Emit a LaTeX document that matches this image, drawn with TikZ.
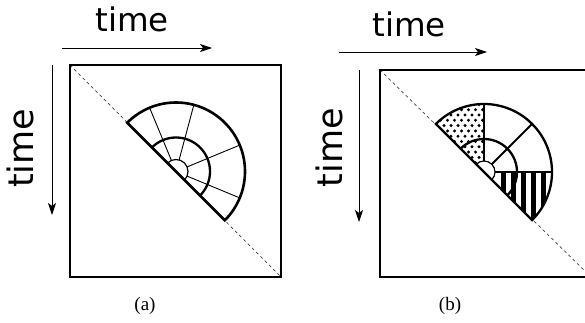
\documentclass[tikz,border=0pt]{standalone}
\usepackage{fontspec}
\setmainfont{Liberation Serif}
\newfontfamily\timefont{DejaVu Sans}
\usetikzlibrary{arrows.meta}
\begin{document}
\begin{tikzpicture}[x=1pt,y=1pt,
  frame/.style={line width=2pt},
  diag/.style={dash pattern=on 3pt off 3pt, line width=0.7pt, black!75},
  thickarc/.style={line width=2.6pt},
  midarc/.style={line width=2.3pt},
  innerarc/.style={line width=1.2pt},
  thinray/.style={line width=0.9pt},
  boldray/.style={line width=2pt},
  timearrow/.style={line width=0.9pt, -{Stealth[length=12pt,width=8pt,inset=3pt]}},
  timelabel/.style={font=\timefont\fontsize{32.5}{36}\selectfont, inner sep=0pt, anchor=base},
  vtimelabel/.style={font=\timefont\fontsize{35}{38}\selectfont, inner sep=0pt, anchor=base, rotate=90},
  caption/.style={font=\fontsize{19}{21}\selectfont, inner sep=0pt}
]
\useasboundingbox (0,0) rectangle (585,322);

% ---------------- panel (a)
\coordinate (atl) at (70,257);
\coordinate (abr) at (281,45);
\coordinate (ca) at (176,150.5);
\draw[diag] (atl) -- (abr);
\draw[frame] (atl) rectangle (abr);
\begin{scope}[shift={(ca)}]
  \fill[white] (-45:69pt) arc[start angle=-45,end angle=135,radius=69pt] -- cycle;
  \foreach \t in {112.5,75,22.5,-22.5}
    \draw[thinray] (\t:12pt) -- (\t:69pt);
  \draw[innerarc] (-45:12pt) arc[start angle=-45,end angle=135,radius=12pt];
  \draw[midarc] (-45:34pt) arc[start angle=-45,end angle=135,radius=34pt];
  \draw[thickarc] (-45:69pt) arc[start angle=-45,end angle=135,radius=69pt] -- cycle;
\end{scope}

\coordinate (ha1) at (62,274);
\coordinate (ha2) at (212,274);
\draw[timearrow] (ha1) -- (ha2);
\coordinate (va1) at (52,257);
\coordinate (va2) at (52,107);
\draw[timearrow] (va1) -- (va2);
\node[timelabel] (ta) at (132,290) {time};
\node[vtimelabel] (vta) at (33.3,173.7) {time};
\node[caption] (capa) at (145,16) {(a)};

% ---------------- panel (b)
\coordinate (btl) at (380,252);
\coordinate (bbr) at (591,45);
\coordinate (cb) at (484,150);
\draw[diag] (btl) -- (bbr);
\draw[frame] (btl) rectangle (bbr);
\begin{scope}[shift={(cb)}]
  \fill[white] (-45:68pt) arc[start angle=-45,end angle=135,radius=68pt] -- cycle;
  % dotted sector
  \begin{scope}
    \clip (90:11pt) -- (90:68pt) arc[start angle=90,end angle=135,radius=68pt]
          -- (135:11pt) arc[start angle=135,end angle=90,radius=11pt] -- cycle;
    \foreach \i in {0,...,13}{
      \foreach \j in {0,...,8}{
        \pgfmathsetmacro\xx{-54+\j*7+mod(\i,2)*3.5}
        \pgfmathsetmacro\yy{4+\i*5.3}
        \fill (\xx,\yy) circle[radius=1.65pt];
      }
    }
  \end{scope}
  % striped sector
  \begin{scope}
    \clip (0:11pt) -- (0:68pt) arc[start angle=0,end angle=-45,radius=68pt]
          -- (-45:11pt) arc[start angle=-45,end angle=0,radius=11pt] -- cycle;
    \foreach \k in {0,...,5}
      \fill (17+\k*10,1) rectangle ++(5,-60);
  \end{scope}
  \foreach \t in {90,45,0}
    \draw[boldray] (\t:11pt) -- (\t:68pt);
  \draw[innerarc] (-45:11pt) arc[start angle=-45,end angle=135,radius=11pt];
  \draw[midarc] (-45:33pt) arc[start angle=-45,end angle=135,radius=33pt];
  \draw[midarc] (-45:68pt) arc[start angle=-45,end angle=135,radius=68pt] -- cycle;
\end{scope}

\coordinate (hb1) at (339,270);
\coordinate (hb2) at (487,270);
\draw[timearrow] (hb1) -- (hb2);
\coordinate (vb1) at (359,252);
\coordinate (vb2) at (359,100);
\draw[timearrow] (vb1) -- (vb2);
\node[timelabel] (tb) at (409,285.3) {time};
\node[vtimelabel] (vtb) at (342,174.5) {time};
\node[caption] (capb) at (450,16) {(b)};
\end{tikzpicture}
\end{document}
